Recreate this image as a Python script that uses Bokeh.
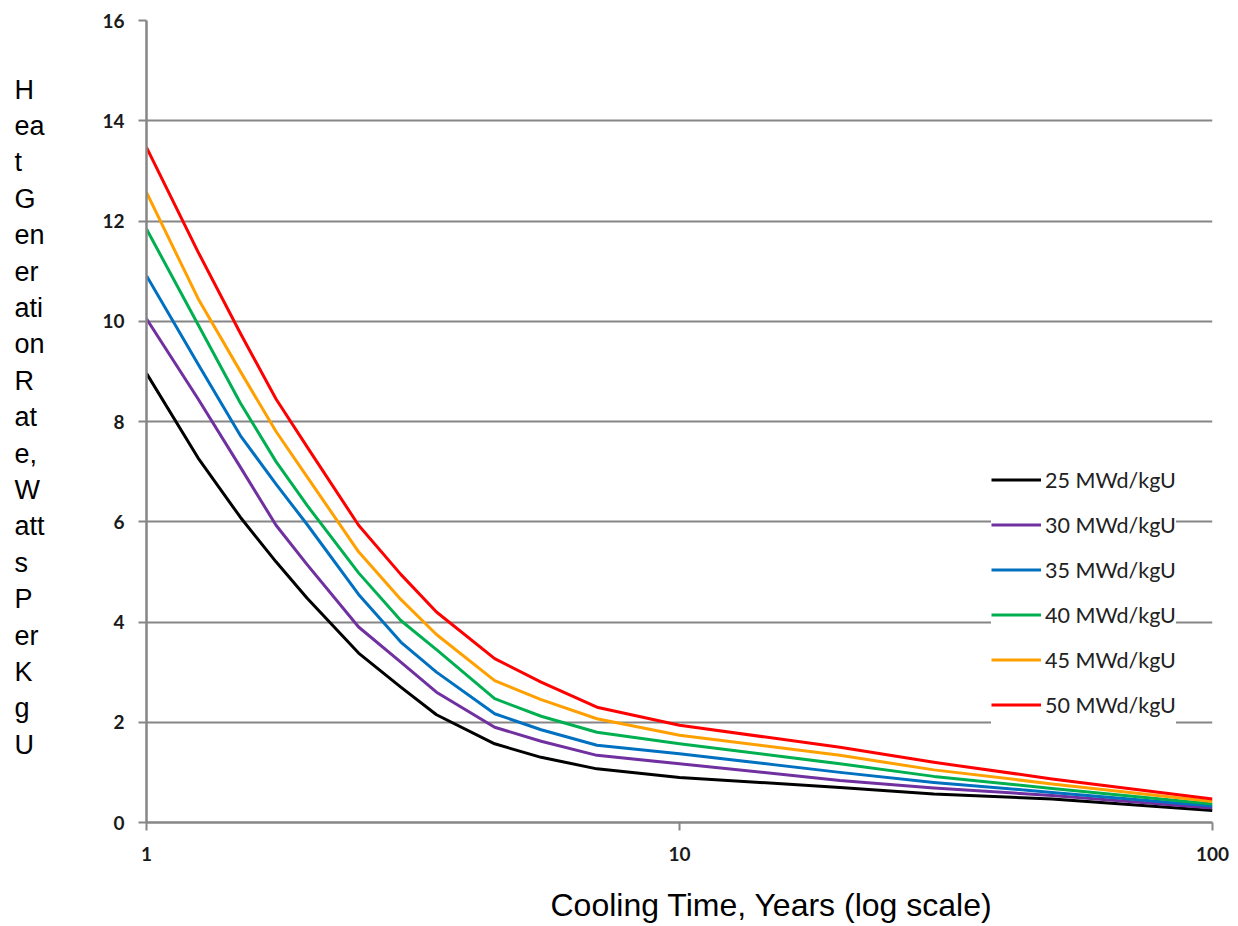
from bokeh.plotting import figure
from bokeh.layouts import row, column
from bokeh.models import Range1d, FixedTicker, Legend, LegendItem
from bokeh.core.properties import value
from bokeh.embed import file_html
from bokeh.resources import INLINE

# ---- data ----
cooling_years = [1, 1.25, 1.5, 1.75, 2, 2.5, 3, 3.5, 4.5, 5.5, 7, 10, 20, 30, 50, 100]
heat_25 = [8.96, 7.27, 6.09, 5.20, 4.48, 3.38, 2.70, 2.15, 1.57, 1.30, 1.07, 0.90, 0.70, 0.57, 0.47, 0.24]
heat_30 = [10.05, 8.45, 7.09, 5.93, 5.15, 3.90, 3.20, 2.60, 1.90, 1.62, 1.34, 1.17, 0.84, 0.69, 0.54, 0.29]
heat_35 = [10.91, 9.14, 7.72, 6.75, 5.95, 4.55, 3.60, 3.00, 2.17, 1.85, 1.54, 1.37, 1.00, 0.80, 0.60, 0.33]
heat_40 = [11.84, 9.93, 8.37, 7.20, 6.33, 4.98, 4.03, 3.45, 2.47, 2.12, 1.80, 1.57, 1.17, 0.92, 0.68, 0.37]
heat_45 = [12.57, 10.45, 9.00, 7.80, 6.90, 5.40, 4.45, 3.75, 2.83, 2.45, 2.07, 1.74, 1.34, 1.05, 0.77, 0.42]
heat_50 = [13.47, 11.38, 9.76, 8.45, 7.50, 5.93, 4.95, 4.20, 3.27, 2.80, 2.30, 1.94, 1.50, 1.20, 0.87, 0.47]

series_names = ["25 MWd/kgU", "30 MWd/kgU", "35 MWd/kgU", "40 MWd/kgU", "45 MWd/kgU", "50 MWd/kgU"]
series_values = [heat_25, heat_30, heat_35, heat_40, heat_45, heat_50]
series_colors = ["#000000", "#7030A0", "#0070C0", "#00B050", "#FFA000", "#FF0000"]

x_ticks = [1, 10, 100]
x_tick_labels = ["1", "10", "100"]
y_ticks = [0, 2, 4, 6, 8, 10, 12, 14, 16]

x_title = "Cooling Time, Years (log scale)"
y_title_chunks = ["H", "ea", "t", "G", "en", "er", "ati", "on", "R", "at", "e,",
                  "W", "att", "s", "P", "er", "K", "g", "U"]

GRAY = "#868686"
H = 872
TOP, BOTTOM = 20, 50
TOTAL_W = 1230
XT_H = 54

# ---- main chart ----
p = figure(width=1140, height=H, x_axis_type="log",
           x_range=Range1d(1, 100), y_range=Range1d(0, 16),
           output_backend="svg", toolbar_location=None,
           min_border_left=56, min_border_right=18,
           min_border_top=TOP, min_border_bottom=BOTTOM)
p.outline_line_color = None
p.background_fill_color = "white"
p.border_fill_color = "white"

p.xgrid.grid_line_color = None
p.ygrid.grid_line_color = GRAY
p.ygrid.grid_line_width = 2
p.ygrid.ticker = FixedTicker(ticks=y_ticks)

for ax in (p.xaxis[0], p.yaxis[0]):
    ax.axis_line_color = GRAY
    ax.axis_line_width = 2.5
    ax.major_tick_line_color = GRAY
    ax.major_tick_line_width = 2
    ax.major_tick_in = 0
    ax.major_tick_out = 8
    ax.minor_tick_line_color = None
    ax.major_label_text_font = "Lato"
    ax.major_label_text_font_style = "bold"
    ax.major_label_text_font_size = "19px"
    ax.major_label_text_color = "#1a1a1a"

p.xaxis[0].ticker = FixedTicker(ticks=x_ticks)
p.xaxis[0].major_label_overrides = {t: s for t, s in zip(x_ticks, x_tick_labels)}
p.xaxis[0].major_label_standoff = 16
p.yaxis[0].ticker = FixedTicker(ticks=y_ticks)
p.yaxis[0].major_label_standoff = 14

items = []
for name, vals, col in zip(series_names, series_values, series_colors):
    r = p.line(cooling_years, vals, line_color=col, line_width=3, line_join="round")
    items.append(LegendItem(label=name, renderers=[r]))

legend = Legend(items=items, location=(845, 95),
                glyph_width=50, glyph_height=45, label_height=45,
                label_standoff=4, spacing=0, padding=10, margin=0,
                label_text_font="Lato", label_text_font_size="21.5px",
                label_text_color="#222222",
                background_fill_color="white", background_fill_alpha=1.0,
                border_line_color=None)
p.add_layout(legend)

# ---- stacked y title column (frame aligned with the main chart's frame) ----
yfig = figure(width=90, height=H, x_range=Range1d(0, 90),
              y_range=Range1d(H - BOTTOM, TOP),
              output_backend="svg", toolbar_location=None,
              min_border_left=0, min_border_right=0,
              min_border_top=TOP, min_border_bottom=BOTTOM,
              x_axis_location=None, y_axis_location=None)
yfig.outline_line_color = None
yfig.grid.visible = False
yfig.text(x=[14] * len(y_title_chunks),
          y=[89 + i * 36.4 for i in range(len(y_title_chunks))],
          text=y_title_chunks, text_font=value("Liberation Sans"),
          text_font_size="27px", text_color="#000000",
          text_align="left", text_baseline="alphabetic")

# ---- x title strip ----
xfig = figure(width=TOTAL_W, height=XT_H, x_range=Range1d(0, TOTAL_W),
              y_range=Range1d(XT_H, 0),
              output_backend="svg", toolbar_location=None, min_border=0,
              x_axis_location=None, y_axis_location=None)
xfig.outline_line_color = None
xfig.grid.visible = False
xfig.text(x=[550], y=[32], text=[x_title], text_font=value("Liberation Sans"),
          text_font_size="32px", text_color="#000000",
          text_align="left", text_baseline="alphabetic")

layout = column(row(yfig, p, spacing=0), xfig, spacing=0)
open("out.html", "w").write(file_html(layout, INLINE))
